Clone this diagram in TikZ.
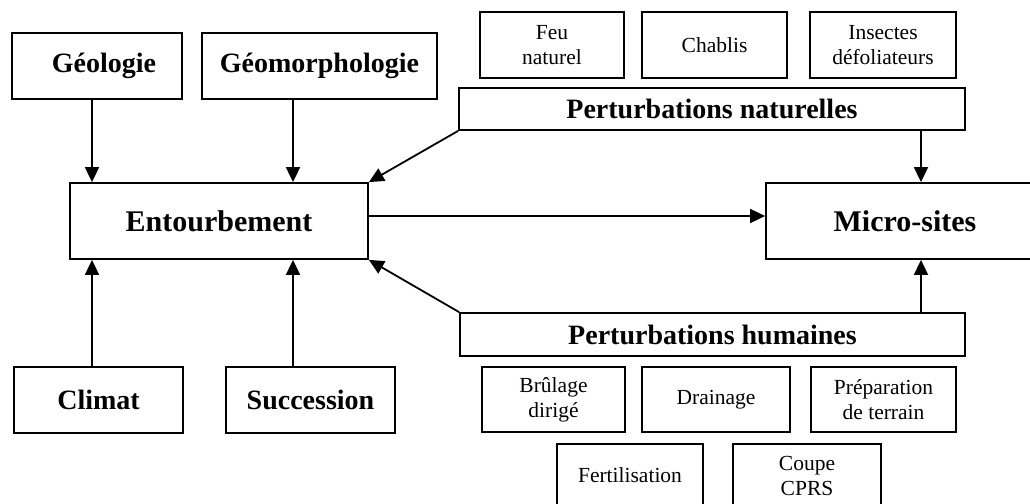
\documentclass[tikz,border=0pt]{standalone}
\usepackage{fontspec}
\setmainfont{Liberation Serif}
\usetikzlibrary{arrows.meta}
\tikzset{
  box/.style={draw, line width=1.8pt, rectangle, inner sep=0pt, align=center},
  bigbox/.style={box, font=\fontsize{28}{33}\selectfont\bfseries},
  mainbox/.style={box, font=\fontsize{30}{35}\selectfont\bfseries},
  smallbox/.style={box, font=\fontsize{21.5}{25}\selectfont},
  conn/.style={line width=1.8pt, -{Triangle[length=15pt,width=14pt]}}
}
\begin{document}
\begin{tikzpicture}[x=1pt,y=-1pt]
\useasboundingbox (0,0) rectangle (1030,503);
\clip (0,0) rectangle (1030,503);
\fill[white] (0,0) rectangle (1030,503);
% left column
\node[bigbox, minimum width=170, minimum height=66] (geo) at (97,66) {\hspace{14pt}Géologie};
\node[bigbox, minimum width=235, minimum height=66] (geom) at (319.5,66) {Géomorphologie};
\node[mainbox, minimum width=298, minimum height=76] (ent) at (219,221) {Entourbement};
\node[bigbox, minimum width=169, minimum height=66] (clim) at (98.5,400) {Climat};
\node[bigbox, minimum width=169, minimum height=66] (succ) at (310.5,400) {Succession};
% natural disturbances
\node[smallbox, minimum width=144, minimum height=66] (feu) at (552,45) {Feu\\naturel};
\node[smallbox, minimum width=145, minimum height=66] (chab) at (714.5,45) {Chablis};
\node[smallbox, minimum width=146, minimum height=66] (ins) at (883,45) {Insectes\\défoliateurs};
\node[bigbox, minimum width=506, minimum height=42] (pnat) at (712,109) {Perturbations naturelles};
% micro-sites
\node[mainbox, minimum width=278, minimum height=76] (micro) at (905,221) {Micro-sites};
% human disturbances
\node[bigbox, minimum width=505, minimum height=43] (phum) at (712.5,334.5) {Perturbations humaines};
\node[smallbox, minimum width=143, minimum height=65] (brul) at (553.5,399.5) {Brûlage\\dirigé};
\node[smallbox, minimum width=148, minimum height=65] (drain) at (716,399.5) {Drainage};
\node[smallbox, minimum width=145, minimum height=65] (prep) at (883.5,399.5) {Préparation\\de terrain};
\node[smallbox, minimum width=146, minimum height=62, anchor=north] (fert) at (630,443) {Fertilisation};
\node[smallbox, minimum width=148, minimum height=64, anchor=north] (coupe) at (807,443) {Coupe\\CPRS};
% connectors
\draw[conn] (geo.south -| 92,0) -- (ent.north -| 92,0);
\draw[conn] (geom.south -| 293,0) -- (ent.north -| 293,0);
\draw[conn] (clim.north -| 92,0) -- (ent.south -| 92,0);
\draw[conn] (succ.north -| 293,0) -- (ent.south -| 293,0);
\draw[conn] (pnat.south west) -- (ent.north east);
\draw[conn] (phum.north west) -- (ent.south east);
\draw[conn] (ent.east |- 0,216) -- (micro.west |- 0,216);
\draw[conn] (pnat.south -| 921,0) -- (micro.north -| 921,0);
\draw[conn] (phum.north -| 921,0) -- (micro.south -| 921,0);
\end{tikzpicture}
\end{document}
